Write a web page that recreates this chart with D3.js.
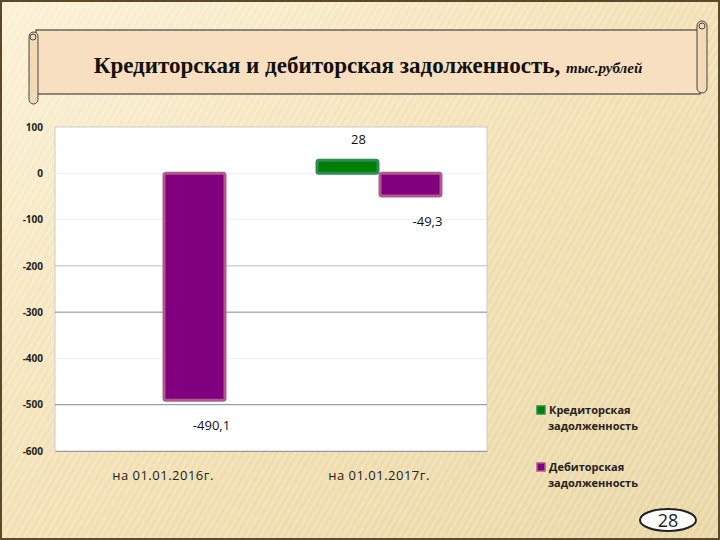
<!DOCTYPE html>
<html>
<head>
<meta charset="utf-8">
<script src="https://cdn.jsdelivr.net/npm/d3@7"></script>
<style>
  body { margin: 0; }
  svg { display: block; }
</style>
</head>
<body>
<script>
  var categories = ["на 01.01.2016г.", "на 01.01.2017г."];
  var seriesNames = ["Кредиторская задолженность", "Дебиторская задолженность"];
  var kredit = [null, 28];
  var debit = [-490.1, -49.3];
  var kreditLabels = ["", "28"];
  var debitLabels = ["-490,1", "-49,3"];
  var yTicks = [100, 0, -100, -200, -300, -400, -500, -600];
  var colors = ["#008000", "#800080"];
  var strokes = ["#2e8b57", "#b05a8c"];

  var W = 720, H = 540;
  var svg = d3.select("body").append("svg").attr("width", W).attr("height", H);
  var defs = svg.append("defs");

  // background: beige with light diagonal stripes
  var bg = defs.append("linearGradient").attr("id", "bg").attr("x1", 0).attr("y1", 0).attr("x2", 1).attr("y2", 1);
  bg.append("stop").attr("offset", "0").attr("stop-color", "#fbf1d4");
  bg.append("stop").attr("offset", "0.5").attr("stop-color", "#f2e0b2");
  bg.append("stop").attr("offset", "1").attr("stop-color", "#e9d6a4");
  var pat = defs.append("pattern").attr("id", "stripes").attr("width", 6).attr("height", 6)
    .attr("patternUnits", "userSpaceOnUse").attr("patternTransform", "rotate(30)");
  pat.append("rect").attr("width", 3).attr("height", 6).attr("fill", "#ffffff").attr("opacity", 0.18);
  svg.append("rect").attr("width", W).attr("height", H).attr("fill", "url(#bg)");
  svg.append("rect").attr("width", W).attr("height", H).attr("fill", "url(#stripes)");
  svg.append("rect").attr("x", 1).attr("y", 1).attr("width", W - 2).attr("height", H - 2)
    .attr("fill", "none").attr("stroke", "#5a4a2a").attr("stroke-width", 2);

  // scroll banner
  var scroll = svg.append("g");
  scroll.append("rect").attr("x", 36).attr("y", 30).attr("width", 664).attr("height", 64)
    .attr("fill", "#f7dfbf").attr("stroke", "#444").attr("stroke-width", 1.2);
  scroll.append("rect").attr("x", 29).attr("y", 32).attr("width", 9).attr("height", 72).attr("rx", 4.5)
    .attr("fill", "#f3d9b6").attr("stroke", "#444");
  scroll.append("rect").attr("x", 697).attr("y", 21).attr("width", 10).attr("height", 72).attr("rx", 5)
    .attr("fill", "#f3d9b6").attr("stroke", "#444");
  scroll.append("circle").attr("cx", 702).attr("cy", 26).attr("r", 3).attr("fill", "none").attr("stroke", "#444");
  scroll.append("circle").attr("cx", 33).attr("cy", 37).attr("r", 3).attr("fill", "none").attr("stroke", "#444");
  var title = scroll.append("text").attr("x", 368).attr("y", 73).attr("text-anchor", "middle")
    .style("font-family", "Liberation Serif").style("font-weight", "bold").style("font-size", "23px").attr("fill", "#111");
  title.append("tspan").text("Кредиторская и дебиторская задолженность, ");
  title.append("tspan").style("font-style", "italic").style("font-size", "15px").text("тыс.рублей");

  // plot
  var x0 = 55, x1 = 487, yTop = 127, yBot = 451;
  svg.append("rect").attr("x", x0).attr("y", yTop).attr("width", x1 - x0).attr("height", yBot - yTop)
    .attr("fill", "#fff").attr("stroke", "#ccc");
  var y = d3.scaleLinear().domain([-600, 100]).range([yBot, yTop]);
  var xb = d3.scaleBand().domain(categories).range([x0, x1]);
  var xs = d3.scaleBand().domain([0, 1]).range([0, xb.bandwidth()]).paddingOuter(0.714).paddingInner(0);

  svg.append("g").selectAll("line").data(yTicks.filter(function(t){ return t > -600 && t < 100; })).join("line")
    .attr("x1", x0).attr("x2", x1).attr("y1", function(d){ return y(d); }).attr("y2", function(d){ return y(d); })
    .attr("stroke", function(d){ return (d === -300 || d === -500) ? "#888" : (d === -200 ? "#bbb" : "#eee"); });

  var yAxis = svg.append("g").attr("transform", "translate(" + x0 + ",0)")
    .call(d3.axisLeft(y).tickValues(yTicks).tickSize(0).tickPadding(12)
      .tickFormat(function(d){ return String(d); }));
  yAxis.select(".domain").remove();
  yAxis.selectAll("text").style("font-family", "Open Sans").style("font-weight", "bold").style("font-size", "10px").attr("fill", "#222");

  var xAxis = svg.append("g").attr("transform", "translate(0," + yBot + ")")
    .call(d3.axisBottom(xb).tickSize(0).tickPadding(20));
  xAxis.select(".domain").attr("stroke", "#999");
  xAxis.selectAll("text").style("font-family", "Open Sans").style("font-size", "13px")
    .style("letter-spacing", "0.5px").attr("fill", "#222");

  [kredit, debit].forEach(function(vals, s) {
    svg.append("g").selectAll("rect").data(categories).join("rect")
      .filter(function(c, i){ return vals[i] !== null; })
      .attr("x", function(c){ return xb(c) + xs(s) + 1; })
      .attr("width", xs.bandwidth() - 2)
      .attr("y", function(c){ var v = vals[categories.indexOf(c)]; return y(Math.max(0, v)); })
      .attr("height", function(c){ var v = vals[categories.indexOf(c)]; return Math.abs(y(v) - y(0)); })
      .attr("fill", colors[s]).attr("stroke", strokes[s]).attr("stroke-width", 3).attr("rx", 2);
  });

  function addLabels(vals, labels, s, dx) {
    svg.append("g").selectAll("text").data(categories).join("text")
      .filter(function(c, i){ return vals[i] !== null; })
      .attr("x", function(c){ return xb(c) + xs(s) + xs.bandwidth() / 2 + dx; })
      .attr("y", function(c){ var v = vals[categories.indexOf(c)]; return v >= 0 ? y(v) - 16 : y(v) + 30; })
      .attr("text-anchor", "middle")
      .style("font-family", "Open Sans").style("font-size", "13px").attr("fill", "#111")
      .text(function(c){ return labels[categories.indexOf(c)]; });
  }
  addLabels(kredit, kreditLabels, 0, 11);
  addLabels(debit, debitLabels, 1, 17);

  // legend
  var lg = svg.append("g");
  seriesNames.forEach(function(name, i) {
    var ly = 410 + i * 57;
    lg.append("rect").attr("x", 537).attr("y", ly - 4).attr("width", 8).attr("height", 8)
      .attr("fill", colors[i]).attr("stroke", strokes[i]).attr("stroke-width", 1.5);
    var parts = name.split(" ");
    parts.forEach(function(p, j) {
      lg.append("text").attr("x", j === 0 ? 549 : 548).attr("y", ly + 4 + j * 16)
        .style("font-family", "Open Sans").style("font-weight", "bold").style("font-size", "11px").attr("fill", "#222")
        .text(p);
    });
  });

  // page number
  svg.append("ellipse").attr("cx", 668).attr("cy", 520).attr("rx", 28).attr("ry", 11)
    .attr("fill", "#fff").attr("stroke", "#222").attr("stroke-width", 2);
  svg.append("text").attr("x", 668).attr("y", 527).attr("text-anchor", "middle")
    .style("font-family", "Open Sans").style("font-size", "18px").attr("fill", "#222").text("28");
</script>
</body>
</html>
